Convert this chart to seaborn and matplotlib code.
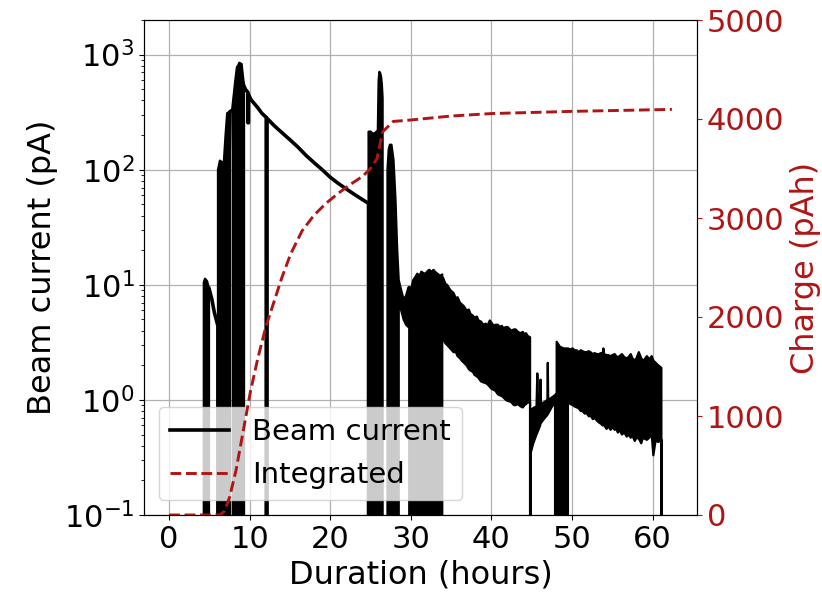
import numpy as np
import pandas as pd
import matplotlib
matplotlib.use("Agg")
import matplotlib.pyplot as plt
import seaborn as sns

OFF = 1e-3  # beam off (below the visible axis range)

# ---- Beam current: continuous trace (hours, pA) ----
beam_t = [4.95, 5.3, 5.6, 6.05, 6.05,
          7.55, 7.9,
          8.3, 8.5,
          9.3, 9.5, 9.78, 9.78, 9.85, 9.85, 10.15, 11.0, 11.5, 12.05, 12.05, 12.15, 12.15,
          13.0, 14.0, 15.0, 16.0, 17.0, 18.0, 19.0, 20.0, 21.0, 22.0, 23.0, 24.0,
          24.75, 24.75]
beam_i = [9.3, 7.5, 5.8, 4.4, OFF,
          320, 330,
          600, 780,
          530, 496, 470, 256, 256, 450, 407, 346, 310, 285, OFF, OFF, 280,
          243, 210, 182, 157, 133, 115, 100, 86, 76, 68, 61, 55,
          51, OFF]

# ---- Beam current: dense on/off and noisy regions (hours, upper / lower in pA) ----
band_t = [4.30, 4.30, 4.45, 4.7, 4.95, 4.95,
          6.06, 6.06, 6.3, 6.68, 6.68,
          6.80, 6.80, 7.0, 7.2, 7.55, 7.55,
          7.90, 7.90, 8.1, 8.3, 8.3,
          8.50, 8.50, 8.7, 9.0, 9.3, 9.3,
          24.75, 24.75, 25.0, 25.3, 25.6, 25.9, 26.0, 26.1, 26.2, 26.3, 26.4, 26.5, 26.5,
          27.1, 27.1, 27.25, 27.4, 27.6, 27.85, 28.1, 28.3, 28.5, 28.5,
          28.8, 29.1, 29.4, 29.7, 29.8, 29.8,
          30.0, 30.3, 30.6, 30.8, 31.1, 31.3, 31.6, 31.8, 32.1, 32.3, 32.6, 32.8,
          33.1, 33.3, 33.6, 33.9, 33.9,
          34.0, 34.3, 34.5, 34.9, 35.3, 35.6, 35.8, 36.1, 36.3, 36.6, 36.9, 37.2,
          37.4, 37.7, 37.9, 38.2, 38.4, 38.7, 39.0, 39.3, 39.5, 39.8, 40.0, 40.3,
          40.5, 40.8, 41.0, 41.3, 41.5, 41.8, 42.0, 42.3, 42.5, 42.8, 43.0, 43.3,
          43.6, 43.9, 44.1, 44.3, 44.5, 44.8, 44.8,
          44.85, 45.2, 45.6, 45.7, 45.8, 46.05, 46.1, 46.15, 46.5, 46.95, 47.0, 47.05,
          47.5, 47.9, 47.9, 48.1, 48.1, 48.5, 49.0, 49.5, 49.5,
          49.8, 50.1, 50.3, 50.6, 50.8, 51.1, 51.3, 51.6, 51.8, 52.1, 52.3, 52.6,
          52.8, 53.1, 53.3, 53.6, 53.8, 53.9, 54.0, 54.3, 54.5, 54.8, 55.0,
          55.3, 55.5, 55.7, 55.9, 56.2, 56.5, 56.8, 57.0, 57.3, 57.5, 57.8, 58.0,
          58.3, 58.6, 58.8, 59.0, 59.3, 59.6, 59.9, 60.1,
          60.4, 60.7, 61.1, 61.1]
band_hi = [OFF, 10.5, 11.3, 10.8, 9.3, OFF,
           OFF, 100, 120, 115, OFF,
           OFF, 120, 200, 310, 320, OFF,
           OFF, 330, 450, 600, OFF,
           OFF, 780, 850, 830, 530, OFF,
           OFF, 214, 215, 205, 210, 220, 600, 710, 690, 650, 560, 420, OFF,
           OFF, 100, 150, 165, 165, 122, 55, 21, 11, 11,
           9.0, 7.5, 8.0, 9.5, 9.6, 9.6,
           9.0, 11.0, 11.8, 12.5, 12.0, 13.0, 12.6, 12.5, 13.2, 13.5, 12.9, 13.5,
           12.8, 12.5, 12.0, 12.3, 11.5,
           11.5, 10.2, 10.0, 9.0, 8.5, 7.6, 7.8, 7.0, 6.8, 6.5, 6.0, 6.1,
           5.6, 5.4, 5.2, 5.3, 4.9, 4.8, 4.5, 4.6, 4.4, 4.9, 4.7, 4.4,
           4.5, 4.5, 4.3, 4.4, 4.2, 4.3, 4.3, 4.1, 4.0, 4.1, 4.1, 3.9,
           3.8, 3.9, 3.7, 3.8, 3.6, 3.5, OFF,
           0.80, 0.85, 0.88, 1.7, 0.9, 0.92, 1.5, 0.93, 0.95, 1.0, 2.1, 1.0,
           1.05, 1.1, 1.1, 1.15, 3.2, 2.9, 2.8, 2.8, 2.8,
           2.75, 2.8, 2.7, 2.7, 2.6, 2.7, 2.65, 2.6, 2.6, 2.65, 2.6, 2.5,
           2.55, 2.5, 2.5, 2.55, 2.5, 2.8, 2.5, 2.45, 2.45, 2.4, 2.45,
           2.5, 2.4, 2.35, 2.4, 2.5, 2.35, 2.3, 2.35, 2.5, 2.3, 2.2, 2.3,
           2.6, 2.3, 2.2, 2.25, 2.4, 2.25, 2.4, 2.2,
           2.1, 2.0, 1.9, OFF]
band_lo = [OFF, OFF, OFF, OFF, OFF, OFF,
           OFF, OFF, OFF, OFF, OFF,
           OFF, OFF, OFF, OFF, OFF, OFF,
           OFF, OFF, OFF, OFF, OFF,
           OFF, OFF, OFF, OFF, OFF, OFF,
           OFF, OFF, OFF, OFF, OFF, OFF, OFF, OFF, OFF, OFF, OFF, OFF, OFF,
           OFF, OFF, OFF, OFF, OFF, OFF, OFF, OFF, OFF, 7.0,
           6.0, 5.0, 4.5, 4.3, 4.2, OFF,
           OFF, OFF, OFF, OFF, OFF, OFF, OFF, OFF, OFF, OFF, OFF, OFF,
           OFF, OFF, OFF, OFF, 3.4,
           3.4, 3.1, 3.0, 2.8, 2.6, 2.6, 2.4, 2.3, 2.2, 2.1, 2.0, 1.85,
           1.8, 1.75, 1.65, 1.6, 1.55, 1.45, 1.42, 1.4, 1.37, 1.3, 1.25, 1.22,
           1.2, 1.12, 1.1, 1.08, 1.05, 1.0, 0.98, 0.97, 0.95, 0.9, 0.9, 0.92,
           0.88, 0.86, 0.9, 0.92, 0.95, 0.95, OFF,
           0.34, 0.42, 0.50, 0.52, 0.54, 0.60, 0.62, 0.63, 0.68, 0.74, 0.75, 0.76,
           0.87, 0.95, OFF, OFF, OFF, OFF, OFF, OFF, 1.0,
           0.92, 0.9, 0.88, 0.86, 0.85, 0.8, 0.8, 0.76, 0.77, 0.72, 0.73, 0.68,
           0.7, 0.66, 0.64, 0.62, 0.6, 0.62, 0.6, 0.56, 0.59, 0.55, 0.58,
           0.55, 0.56, 0.52, 0.55, 0.5, 0.52, 0.48, 0.5, 0.47, 0.49, 0.44, 0.47,
           0.46, 0.42, 0.47, 0.46, 0.45, 0.47, 0.5, 0.33,
           0.45, 0.43, 0.45, OFF]

# ---- Integrated charge (hours, pAh) ----
charge_t = [0, 6.3, 6.9, 7.5, 8.3, 9.2, 10.1, 11.0, 12.0, 13.0, 14.0, 15.1, 16.5,
            18.0, 19.5, 21.0, 22.5, 24.0, 25.0, 25.8, 26.5, 27.8, 30.0, 35.0, 40.0,
            50.0, 62.4]
charge_q = [0, 0, 40, 180, 450, 850, 1250, 1580, 1900, 2150, 2400, 2640, 2870,
            3030, 3150, 3250, 3340, 3420, 3500, 3600, 3870, 3975, 3990, 4030, 4055,
            4077, 4097]

RED = "#b01515"
FS_TICK = 22
FS_LAB = 23

fig = plt.figure(figsize=(8.22, 5.92), dpi=100)
ax1 = fig.add_axes([144 / 822, 1 - 515 / 592, (697 - 144) / 822, (515 - 20) / 592])

beam_df = pd.DataFrame({"t": beam_t, "i": beam_i})
sns.lineplot(data=beam_df, x="t", y="i", ax=ax1, color="black", lw=2.6,
             sort=False, estimator=None, legend=False, label="Beam current")
ax1.fill_between(band_t, band_lo, band_hi, color="black", linewidth=1.6,
                 edgecolor="black")
ax1.set_yscale("log")
ax1.set_ylim(0.1, 2000)
ax1.set_xlim(-3.12, 65.52)
ax1.set_xticks([0, 10, 20, 30, 40, 50, 60])
ax1.grid(True, which="major", color="#b0b0b0", lw=0.9)
ax1.set_axisbelow(True)
ax1.set_xlabel("Duration (hours)", fontsize=FS_LAB)
ax1.set_ylabel("Beam current (pA)", fontsize=FS_LAB)
ax1.tick_params(axis="both", which="major", labelsize=FS_TICK)

ax2 = ax1.twinx()
charge_df = pd.DataFrame({"t": charge_t, "q": charge_q})
sns.lineplot(data=charge_df, x="t", y="q", ax=ax2, color=RED, lw=2.1,
             linestyle="--", sort=False, estimator=None, legend=False,
             label="Integrated")
ax2.set_ylim(0, 5000)
ax2.set_xlim(-3.12, 65.52)
ax2.set_ylabel("Charge (pAh)", fontsize=FS_LAB, color=RED)
ax2.tick_params(axis="y", colors=RED, labelsize=FS_TICK)
ax2.set_xlabel("")

h1, l1 = ax1.get_legend_handles_labels()
h2, l2 = ax2.get_legend_handles_labels()
ax1.legend(h1[:1] + h2[:1], ["Beam current", "Integrated"], loc="lower left",
           fontsize=21, framealpha=0.8)

fig.savefig("out.png", dpi=100)
